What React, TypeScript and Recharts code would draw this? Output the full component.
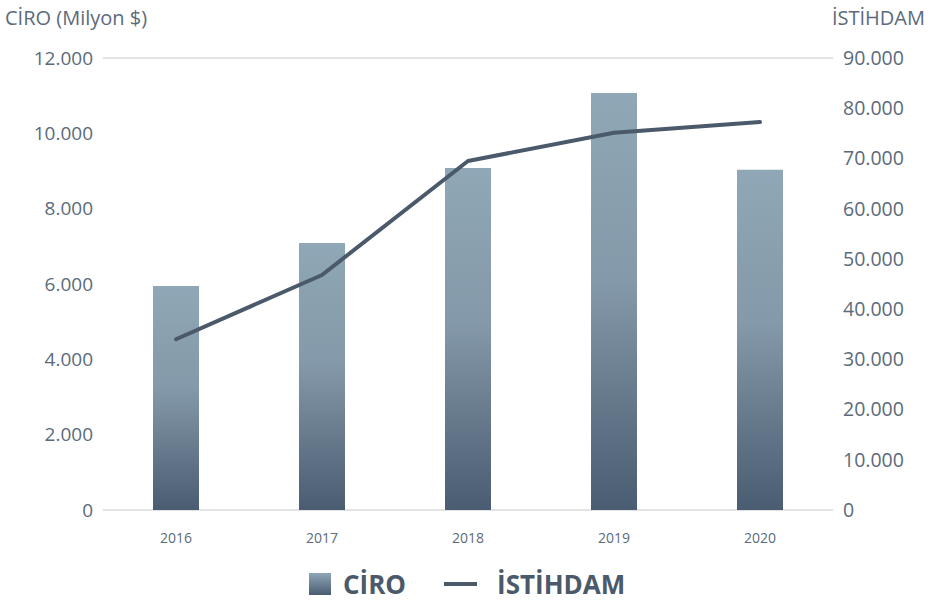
import React from "react";
import { ComposedChart, Bar, Line, XAxis, YAxis, CartesianGrid } from "recharts";

const years = ["2016", "2017", "2018", "2019", "2020"];
const ciro = [5950, 7090, 9080, 11070, 9030];
const istihdam = [34000, 46800, 69500, 75100, 77250];
const leftTicks = [0, 2000, 4000, 6000, 8000, 10000, 12000];
const rightTicks = [0, 10000, 20000, 30000, 40000, 50000, 60000, 70000, 80000, 90000];

const data = years.map((y, i) => ({ year: y, ciro: ciro[i], istihdam: istihdam[i] }));

const fmt = (v: number) => v.toLocaleString("de-DE");
const FONT = "'Open Sans', sans-serif";
const TEXT = "#5b6b7b";

export default function App() {
  return (
    <div style={{ position: "fixed", left: 0, top: 0, width: 931, height: 603, background: "#fff", fontFamily: FONT }}>
      <ComposedChart
        width={931}
        height={603}
        data={data}
        margin={{ top: 58, right: 0, bottom: 53, left: 0 }}
        barCategoryGap={0}
      >
        <defs>
          <linearGradient id="barGrad" x1="0" y1="0" x2="0" y2="1">
            <stop offset="0%" stopColor="#8fa7b6" />
            <stop offset="45%" stopColor="#8499a9" />
            <stop offset="100%" stopColor="#4a5c71" />
          </linearGradient>
        </defs>
        <CartesianGrid vertical={false} stroke="#c4c8cc" strokeWidth={1} />
        <XAxis
          dataKey="year"
          axisLine={false}
          tickLine={false}
          height={40}
          tickMargin={17}
          tick={{ fill: TEXT, fontSize: 14, fontFamily: FONT }}
        />
        <YAxis
          yAxisId="left"
          orientation="left"
          width={103}
          domain={[0, 12000]}
          ticks={leftTicks}
          tickFormatter={fmt}
          axisLine={false}
          tickLine={false}
          tickMargin={4}
          tick={{ fill: TEXT, fontSize: 19, fontFamily: FONT }}
        />
        <YAxis
          yAxisId="right"
          orientation="right"
          width={98}
          domain={[0, 90000]}
          ticks={rightTicks}
          tickFormatter={fmt}
          axisLine={false}
          tickLine={false}
          tickMargin={4}
          tick={{ fill: TEXT, fontSize: 19.5, fontFamily: FONT, textAnchor: "start" }}
        />
        <Bar yAxisId="left" dataKey="ciro" barSize={46} fill="url(#barGrad)" isAnimationActive={false} />
        <Line
          yAxisId="right"
          dataKey="istihdam"
          type="linear"
          stroke="#4a5a6b"
          strokeWidth={4}
          strokeLinejoin="round"
          strokeLinecap="round"
          dot={false}
          activeDot={false}
          isAnimationActive={false}
        />
      </ComposedChart>
      <div style={{ position: "absolute", left: 5, top: 4, fontSize: 20, color: TEXT, whiteSpace: "nowrap" }}>
        CİRO (Milyon $)
      </div>
      <div style={{ position: "absolute", right: 6, top: 4, fontSize: 20, color: TEXT, whiteSpace: "nowrap" }}>
        İSTİHDAM
      </div>
      <div style={{ position: "absolute", left: 309, top: 566, display: "flex", alignItems: "center", height: 36, whiteSpace: "nowrap" }}>
        <div style={{ width: 22, height: 22, background: "linear-gradient(#8fa7b6, #4a5c71)" }} />
        <span style={{ marginLeft: 12, fontSize: 26, fontWeight: 700, color: "#4a5a6b" }}>CİRO</span>
        <div style={{ marginLeft: 38, width: 33, height: 4, background: "#4a5a6b" }} />
        <span style={{ marginLeft: 20, fontSize: 26, fontWeight: 700, color: "#4a5a6b" }}>İSTİHDAM</span>
      </div>
    </div>
  );
}
